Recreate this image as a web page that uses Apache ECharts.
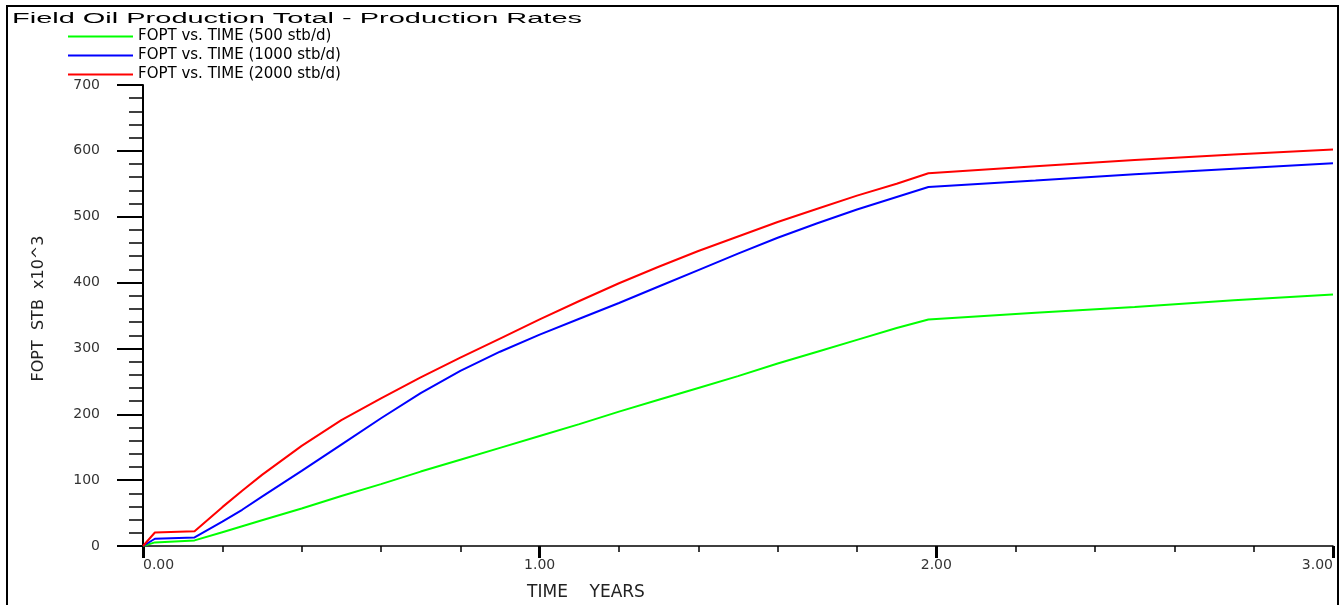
<!DOCTYPE html>
<html><head><meta charset="utf-8">
<script src="https://cdn.jsdelivr.net/npm/echarts@6/dist/echarts.min.js"></script>
<style>html,body{margin:0;padding:0;background:#fff}#chart{width:1342px;height:605px}</style>
</head><body><div id="chart"></div>
<script>
const titleText = 'Field Oil Production Total - Production Rates';
const seriesNames = ['FOPT vs. TIME (500 stb/d)', 'FOPT vs. TIME (1000 stb/d)', 'FOPT vs. TIME (2000 stb/d)'];
const seriesColors = ['#00ff00', '#0000ff', '#ff0000'];
const yAxisTitle = 'FOPT  STB  x10^3';
const xAxisTitle = 'TIME    YEARS';
// time in years
const timeYears = [0, 0.03, 0.13, 0.2, 0.25, 0.3, 0.4, 0.5, 0.6, 0.7, 0.8, 0.9, 1.0, 1.1, 1.2, 1.3, 1.4, 1.5, 1.6, 1.7, 1.8, 1.9, 1.98, 2.25, 2.5, 2.75, 3.0];
// FOPT, thousands of STB
const fopt500  = [0, 5.5, 8.5, 21, 30, 39, 57, 76, 94, 113, 131, 149, 167, 185, 204, 222, 240, 258, 277, 295, 313, 331, 344, 354, 363, 373, 382];
const fopt1000 = [0, 11, 13, 37, 55, 75, 114, 154, 194, 232, 266, 295, 321, 345, 369, 394, 419, 444, 468, 490, 511, 530, 545, 555, 564.5, 573, 581];
const fopt2000 = [0, 20.5, 22.5, 59, 84, 108, 152, 191, 224, 256, 286, 315, 344, 372, 399, 424, 448, 470, 492, 512, 532, 550, 566, 576.5, 586, 594.5, 602];
const seriesValues = [fopt500, fopt1000, fopt2000];

const titleFont = '14px "Liberation Sans"';
const ctx = document.createElement('canvas').getContext('2d');
ctx.font = titleFont;
const titleScale = 570 / ctx.measureText(titleText).width;

const chart = echarts.init(document.getElementById('chart'), null, {renderer: 'canvas'});
const axisFont = {fontFamily: 'DejaVu Sans', fontSize: 14, color: '#333'};
chart.setOption({
  animation: false,
  backgroundColor: '#fff',
  graphic: [
    {type: 'rect', silent: true, z: 0, shape: {x: 7, y: 6, width: 1331, height: 620}, style: {fill: 'none', stroke: '#000', lineWidth: 2}},
    {type: 'text', silent: true, z: 5, x: 12, y: 19, scaleX: titleScale, originX: 0, originY: 0,
     style: {text: titleText, font: titleFont, fill: '#000',
             verticalAlign: 'middle', textVerticalAlign: 'middle', align: 'left', textAlign: 'left'}}
  ],
  legend: {
    show: true, orient: 'vertical', left: 68, top: 29, padding: 0, itemWidth: 65, itemHeight: 2, itemGap: 4,
    icon: 'rect', selectedMode: false,
    textStyle: {fontFamily: 'DejaVu Sans', fontSize: 15, lineHeight: 14, color: '#000'},
    data: seriesNames
  },
  grid: {left: 143, right: 9, top: 85, bottom: 59, containLabel: false, outerBoundsMode: 'none'},
  xAxis: {
    type: 'value', min: 0, max: 3, interval: 1,
    axisLine: {show: true, onZero: false, lineStyle: {color: '#000', width: 1.5}},
    axisTick: {show: true, inside: false, length: 12, lineStyle: {color: '#000', width: 3}},
    minorTick: {show: true, splitNumber: 5, length: 6, lineStyle: {color: '#000', width: 1.5}},
    splitLine: {show: false}, minorSplitLine: {show: false},
    axisLabel: Object.assign({formatter: v => v.toFixed(2), margin: 12, alignMinLabel: 'left', alignMaxLabel: 'right'}, axisFont),
    name: xAxisTitle, nameLocation: 'middle', nameGap: 38,
    nameTextStyle: {fontFamily: 'DejaVu Sans', fontSize: 17, color: '#222', padding: [0, 304, 0, 0]}
  },
  yAxis: {
    type: 'value', min: 0, max: 700, interval: 100,
    axisLine: {show: true, lineStyle: {color: '#000', width: 2}},
    axisTick: {show: true, inside: false, length: 26, lineStyle: {color: '#000', width: 2}},
    minorTick: {show: true, splitNumber: 5, length: 14, lineStyle: {color: '#000', width: 1.5}},
    splitLine: {show: false}, minorSplitLine: {show: false},
    axisLabel: Object.assign({margin: 43}, axisFont),
    name: yAxisTitle, nameLocation: 'middle', nameGap: 96, nameRotate: 90,
    nameTextStyle: {fontFamily: 'DejaVu Sans', fontSize: 16, color: '#222', padding: [0, 0, 0, 14]}
  },
  series: seriesNames.map((name, i) => ({
    name: name, type: 'line', showSymbol: false, symbol: 'none', smooth: false,
    color: seriesColors[i],
    lineStyle: {color: seriesColors[i], width: 2},
    itemStyle: {color: seriesColors[i]},
    data: timeYears.map((t, j) => [t, seriesValues[i][j]]),
    z: 2 + i
  }))
});
</script>
</body></html>
